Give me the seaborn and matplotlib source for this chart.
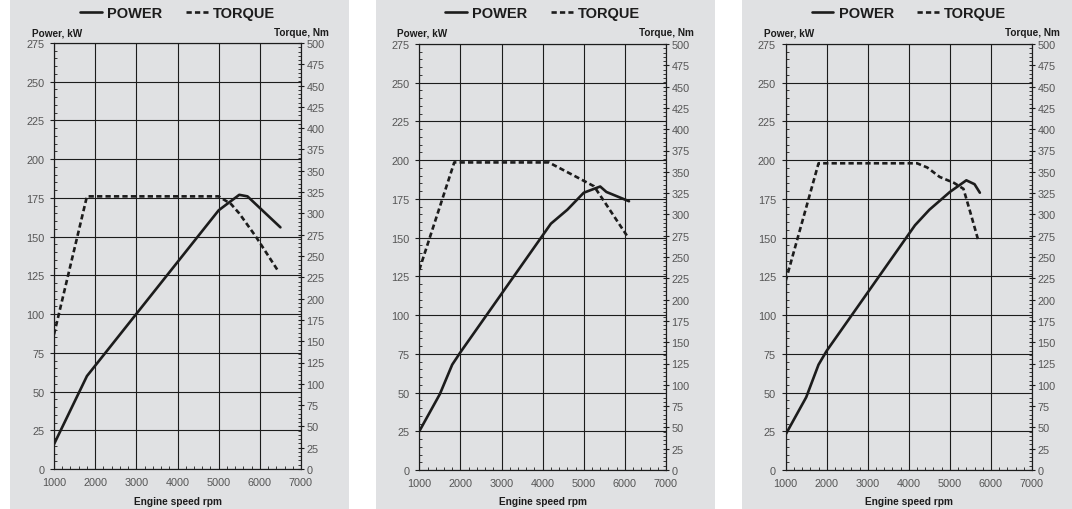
import matplotlib
matplotlib.use("Agg")
import matplotlib.pyplot as plt
from matplotlib.patches import Rectangle
from matplotlib.ticker import MultipleLocator
import seaborn as sns
import pandas as pd

# ---- data ----
p1_rpm = [1000, 1800, 5000, 5500, 5700, 6500]
p1_kw = [16, 60, 167, 177, 176, 156]
t1_rpm = [1000, 1800, 5000, 5300, 5500, 5900, 6450]
t1_nm = [158, 320, 320, 311, 300, 273, 232]

p2_rpm = [1000, 1500, 1800, 2000, 4200, 4600, 5000, 5400, 5550, 6100]
p2_kw = [25, 49, 68, 76, 159, 168, 179, 183, 179.5, 173.5]
t2_rpm = [1000, 1850, 4150, 4900, 5250, 5500, 6050]
t2_nm = [235, 361, 361, 342, 333, 315, 275]

p3_rpm = [1000, 1500, 1800, 2000, 4150, 4500, 5000, 5400, 5600, 5730]
p3_kw = [23, 47, 68, 77, 158, 168, 179.5, 187, 184.5, 179]
t3_rpm = [1000, 1800, 4200, 4450, 4750, 5100, 5330, 5500, 5700]
t3_nm = [222, 360, 360, 355, 344, 337, 330, 302, 268]

x_ticks = [1000, 2000, 3000, 4000, 5000, 6000, 7000]
power_ticks = list(range(0, 276, 25))
torque_ticks = list(range(0, 501, 25))
legend_labels = ["POWER", "TORQUE"]
power_title = "Power, kW"
torque_title = "Torque, Nm"
x_title = "Engine speed rpm"

panels = [
    (p1_rpm, p1_kw, t1_rpm, t1_nm),
    (p2_rpm, p2_kw, t2_rpm, t2_nm),
    (p3_rpm, p3_kw, t3_rpm, t3_nm),
]

# ---- styling / layout ----
sns.set_theme(style="white")
plt.rcParams["font.family"] = ["Liberation Sans", "DejaVu Sans"]

W, H = 1072, 510
GREY = "#e0e1e3"
INK = "#1c1c1c"
TICKC = "#555555"

fig = plt.figure(figsize=(W / 100, H / 100), dpi=100)
fig.patch.set_facecolor("white")

bgs = [(10, 349), (376, 715), (742, 1072)]
axes_px = [(54, 301, 44, 470), (419.3, 666, 45, 471), (785.7, 1032, 45, 471)]

for (x0, x1) in bgs:
    fig.patches.append(Rectangle((x0 / W, 0), (x1 - x0) / W, 1,
                                 transform=fig.transFigure, facecolor=GREY,
                                 edgecolor="none", zorder=-10))

for (pr, pk, tr, tn), (l, r, t, b) in zip(panels, axes_px):
    ax = fig.add_axes([l / W, 1 - b / H, (r - l) / W, (b - t) / H])
    ax.patch.set_alpha(0)
    tw = ax.twinx()

    dfp = pd.DataFrame({"rpm": pr, "kW": pk})
    dft = pd.DataFrame({"rpm": tr, "Nm": tn})
    sns.lineplot(data=dfp, x="rpm", y="kW", ax=ax, color=INK, lw=1.9,
                 legend=False, zorder=5)
    sns.lineplot(data=dft, x="rpm", y="Nm", ax=tw, color=INK, lw=1.9,
                 legend=False, zorder=5)
    tw.lines[0].set_dashes((2.0, 1.2))

    ax.set_xlim(1000, 7000)
    ax.set_ylim(0, 275)
    tw.set_ylim(0, 500)
    ax.set_xticks(x_ticks)
    ax.set_yticks(power_ticks)
    tw.set_yticks(torque_ticks)
    ax.xaxis.set_minor_locator(MultipleLocator(200))
    ax.yaxis.set_minor_locator(MultipleLocator(5))
    tw.yaxis.set_minor_locator(MultipleLocator(5))

    ax.grid(True, which="major", color=INK, lw=0.8)
    ax.set_axisbelow(True)
    for a in (ax, tw):
        for s in a.spines.values():
            s.set_color(INK)
            s.set_linewidth(0.8)
    ax.tick_params(which="major", direction="out", length=3, width=0.8,
                   color=INK, labelsize=7.8, labelcolor=TICKC, pad=3)
    ax.tick_params(axis="y", which="major", pad=4)
    ax.tick_params(which="minor", direction="in", length=2, width=0.6,
                   color=INK, bottom=True, left=True)
    tw.tick_params(which="major", direction="inout", length=4, width=0.8,
                   color=INK, labelsize=7.8, labelcolor=TICKC, pad=2)
    tw.tick_params(which="minor", direction="in", length=2, width=0.6,
                   color=INK)

    ax.set_ylabel("")
    tw.set_ylabel("")
    ax.set_xlabel(x_title, fontsize=7.3, fontweight="bold", color=INK)
    ax.xaxis.set_label_coords(0.5, -(497 - b) / (b - t) * -1 if False else (b - 497) / (b - t))

    fig.text((l - 22) / W, 1 - 33.3 / H, power_title, ha="left", va="center",
             fontsize=7.2, fontweight="bold", color=INK)
    fig.text((r + 28) / W, 1 - 33.3 / H, torque_title, ha="right", va="center",
             fontsize=7.2, fontweight="bold", color=INK)

    cx = (l + r) / 2 / W
    ax.legend([ax.lines[0], tw.lines[0]], legend_labels, loc="center",
              bbox_to_anchor=(cx, 1 - 14 / H), bbox_transform=fig.transFigure,
              ncol=2, frameon=False, handlelength=1.5, handletextpad=0.35,
              columnspacing=1.6, borderaxespad=0,
              prop={"size": 10.5, "weight": "bold"}, labelcolor=INK)

fig.savefig("out.png", dpi=100, facecolor="white")
